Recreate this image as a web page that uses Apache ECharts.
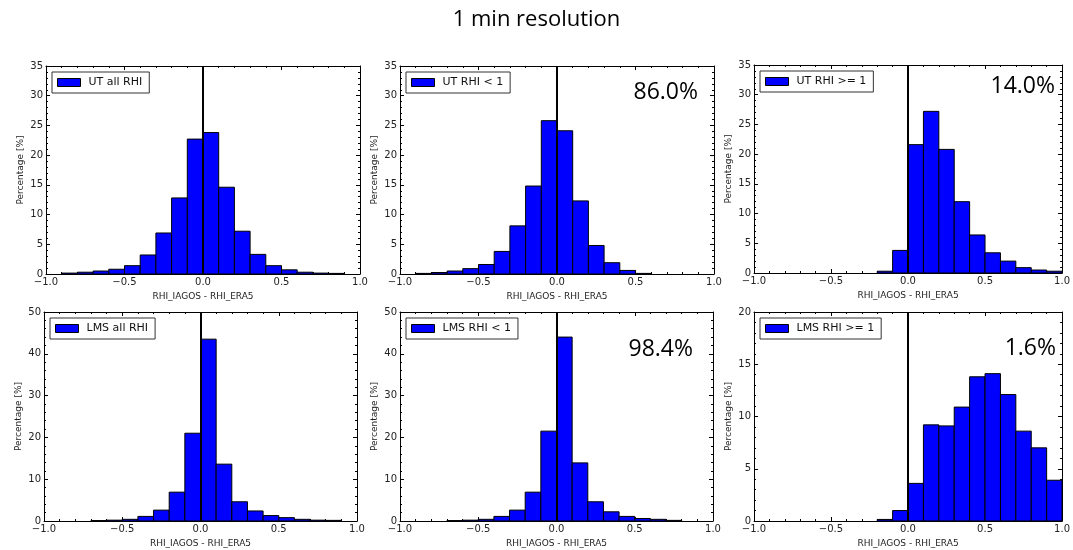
<!DOCTYPE html>
<html>
<head>
<meta charset="utf-8">
<script src="https://cdn.jsdelivr.net/npm/echarts@6/dist/echarts.min.js"></script>
<style>html,body{margin:0;padding:0;background:#fff}#c{width:1073px;height:550px}</style>
</head>
<body>
<div id="c"></div>
<script>
// Bin edges (RHI_IAGOS - RHI_ERA5), width 0.1
const binEdges = [-1.0,-0.9,-0.8,-0.7,-0.6,-0.5,-0.4,-0.3,-0.2,-0.1,0.0,0.1,0.2,0.3,0.4,0.5,0.6,0.7,0.8,0.9,1.0];
// Percentages per bin
const utAll  = [0,0.15,0.3,0.5,0.8,1.4,3.2,6.9,12.8,22.7,23.8,14.6,7.2,3.3,1.4,0.7,0.3,0.15,0.1,0];
const utLt1  = [0,0.1,0.25,0.5,0.9,1.6,3.8,8.1,14.8,25.8,24.1,12.3,4.8,1.9,0.6,0.1,0,0,0,0];
const utGe1  = [0,0,0,0,0,0,0,0,0.3,3.8,21.6,27.2,20.8,12.0,6.4,3.4,2.0,0.9,0.5,0.3];
const lmsAll = [0,0,0,0.1,0.2,0.4,1.1,2.6,6.9,21.0,43.5,13.6,4.6,2.4,1.3,0.8,0.4,0.2,0.15,0];
const lmsLt1 = [0,0,0,0.1,0.2,0.4,1.1,2.6,6.9,21.5,44.0,13.9,4.6,2.2,1.1,0.6,0.4,0.15,0,0];
const lmsGe1 = [0,0,0,0,0,0,0,0,0.15,1.0,3.6,9.2,9.1,10.9,13.8,14.1,12.1,8.6,7.0,3.9];

const panelNames = ['UT all RHI','UT RHI < 1','UT RHI >= 1','LMS all RHI','LMS RHI < 1','LMS RHI >= 1'];
const panelValues = [utAll, utLt1, utGe1, lmsAll, lmsLt1, lmsGe1];
const yMax = [35,35,35,50,50,20];
const yStep = [5,5,5,10,10,5];
const shareLabels = [null,'86.0%','14.0%',null,'98.4%','1.6%'];
const xTicks = [-1.0,-0.5,0.0,0.5,1.0];

const grids = [
  {left:46, top:66, width:314, height:208},
  {left:400, top:66, width:314, height:208},
  {left:754, top:65, width:314, height:208},
  {left:44, top:312, width:313, height:209},
  {left:400, top:312, width:313, height:209},
  {left:754, top:312, width:313, height:209}
];
const shareOffsets = [null,{dx:16,dy:26},{dx:13,dy:21},null,{dx:20,dy:37},{dx:11,dy:36}];

const tickFont = 'DejaVu Sans';
const fmtX = v => (v < 0 ? '\u2212' : '') + Math.abs(v).toFixed(1);

const xAxes = [], yAxes = [], series = [], legends = [], graphics = [];
panelValues.forEach((vals, i) => {
  const common = {
    gridIndex: i, type: 'value',
    axisLine: {show: true, onZero: false, lineStyle: {color: '#000', width: 1}},
    axisTick: {show: true, inside: true, length: 4, lineStyle: {color: '#000'}},
    minorTick: {show: true, splitNumber: 5, length: 2, lineStyle: {color: '#000'}},
    splitLine: {show: false}
  };
  xAxes.push(Object.assign({}, common, {
    position: 'bottom', min: -1, max: 1, interval: 0.5,
    axisLabel: {show: true, formatter: fmtX, fontSize: 10, color: '#222', fontFamily: tickFont, margin: 3,
      customValues: xTicks},
    name: 'RHI_IAGOS - RHI_ERA5', nameLocation: 'middle', nameGap: 18,
    nameTextStyle: {fontSize: 9, color: '#222', fontFamily: tickFont}
  }));
  xAxes.push(Object.assign({}, common, {
    position: 'top', min: -1, max: 1, interval: 0.5, axisLabel: {show: false}
  }));
  yAxes.push(Object.assign({}, common, {
    position: 'left', min: 0, max: yMax[i], interval: yStep[i],
    axisLabel: {show: true, fontSize: 10, color: '#222', fontFamily: tickFont, margin: 3},
    name: 'Percentage [%]', nameLocation: 'middle', nameGap: 21, nameRotate: 90,
    nameTextStyle: {fontSize: 9, color: '#222', fontFamily: tickFont}
  }));
  yAxes.push(Object.assign({}, common, {
    position: 'right', min: 0, max: yMax[i], interval: yStep[i], axisLabel: {show: false}
  }));
  const data = vals.map((v, k) => [binEdges[k], binEdges[k + 1], v]);
  series.push({
    type: 'custom', name: panelNames[i],
    xAxisIndex: 2 * i, yAxisIndex: 2 * i,
    itemStyle: {color: '#0000ff', borderColor: '#000', borderWidth: 1},
    encode: {x: [0, 1], y: 2},
    renderItem: function (params, api) {
      const y = api.value(2);
      if (!(y > 0)) return null;
      const p0 = api.coord([api.value(0), y]);
      const p1 = api.coord([api.value(1), 0]);
      return {
        type: 'rect',
        shape: {x: p0[0], y: p0[1], width: p1[0] - p0[0], height: p1[1] - p0[1]},
        style: {fill: '#0000ff', stroke: '#000', lineWidth: 1}
      };
    },
    data: data,
    markLine: {
      silent: true, symbol: ['none', 'none'], animation: false,
      label: {show: false},
      lineStyle: {color: '#000', width: 2, type: 'solid'},
      data: [[{coord: [0, 0]}, {coord: [0, yMax[i]]}]]
    },
    z: 2
  });
  const g = grids[i];
  legends.push({
    data: [panelNames[i]],
    left: g.left + 6, top: g.top + 6,
    orient: 'vertical',
    icon: 'rect', itemWidth: 23, itemHeight: 8,
    padding: [5, 7, 5, 5],
    borderColor: '#333', borderWidth: 1, borderRadius: 0,
    backgroundColor: '#fff',
    itemStyle: {borderColor: '#000', borderWidth: 1},
    textStyle: {fontSize: 11, color: '#111', fontFamily: tickFont, padding: [0, 0, 0, 3]},
    selectedMode: false
  });
  if (shareLabels[i]) {
    const o = shareOffsets[i];
    graphics.push({
      type: 'text', z: 10,
      x: g.left + g.width - o.dx, y: g.top + o.dy,
      style: {text: shareLabels[i], font: '23px "Open Sans"', fill: '#000',
        textAlign: 'right', textVerticalAlign: 'middle'}
    });
  }
});

const chart = echarts.init(document.getElementById('c'), null, {renderer: 'canvas'});
chart.setOption({
  animation: false,
  backgroundColor: '#fff',
  title: {text: '1 min resolution', left: 'center', top: 4,
    textStyle: {fontSize: 22, fontWeight: 'normal', color: '#000', fontFamily: 'Open Sans'}},
  grid: grids.map(g => Object.assign({containLabel: false}, g)),
  xAxis: xAxes,
  yAxis: yAxes,
  legend: legends,
  series: series,
  graphic: graphics
});
</script>
</body>
</html>
